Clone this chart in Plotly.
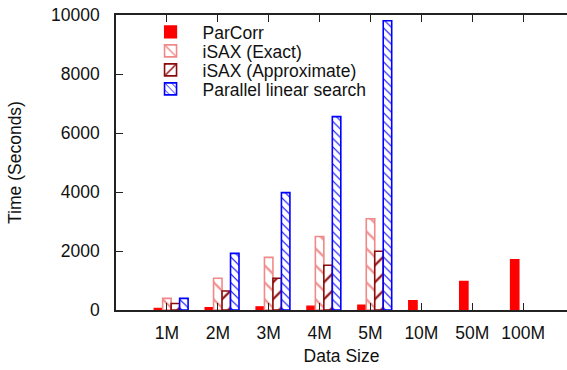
import plotly.graph_objects as go

categories = ["1M", "2M", "3M", "4M", "5M", "10M", "50M", "100M"]
positions = [1, 2, 3, 4, 5, 6, 7, 8]

parcorr = [60, 80, 110, 130, 170, 320, 970, 1710]
isax_exact = [395, 1075, 1785, 2490, 3095, None, None, None]
isax_approx = [220, 645, 1075, 1515, 1990, None, None, None]
parallel_linear = [395, 1920, 3980, 6555, 9805, None, None, None]

y_ticks = [0, 2000, 4000, 6000, 8000, 10000]
y_ticklabels = ["0", "2000", "4000", "6000", "8000", "10000"]

# name, values, colour, pattern, bar-centre shift (in category units)
series = [
    ("ParCorr", parcorr, "#ff0000", "", -1 / 6),
    ("iSAX (Exact)", isax_exact, "#f08a8a", "\\", 0.0),
    ("iSAX (Approximate)", isax_approx, "#8b0a0a", "/", 1 / 6),
    ("Parallel linear search", parallel_linear, "#0000ff", "\\", 1 / 3),
]

font = dict(family="Liberation Sans, Arial, sans-serif", size=17.5, color="#111")
legend_font = dict(family="Liberation Sans, Arial, sans-serif", size=17.5, color="#111")
legend_rows_px = [32, 51, 70, 89]
plot_top, plot_bottom = 15, 310

fig = go.Figure()
layout_legends = {}
for i, (name, vals, color, shape, shift) in enumerate(series):
    if shape == "":
        marker = dict(color=color, line=dict(color=color, width=1.2))
    else:
        size = 6 if name.startswith("Parallel") else 12
        marker = dict(
            color="white",
            line=dict(color=color, width=1.6),
            pattern=dict(shape=shape, fgcolor=color, bgcolor="white",
                         size=size, solidity=0.18, fillmode="replace"),
        )
    lg = "legend" if i == 0 else f"legend{i + 1}"
    fig.add_trace(go.Bar(
        x=positions, y=vals, name=name, width=1 / 6, offset=shift - 1 / 12,
        marker=marker, legend=lg,
    ))
    ypaper = (plot_bottom - legend_rows_px[i]) / (plot_bottom - plot_top)
    layout_legends[lg] = dict(
        x=0.05, y=ypaper, xanchor="left", yanchor="middle",
        bgcolor="rgba(0,0,0,0)", font=legend_font, itemwidth=54,
    )

fig.update_layout(
    width=567, height=370,
    margin=dict(l=116, r=0, t=plot_top, b=370 - plot_bottom),
    paper_bgcolor="white", plot_bgcolor="white",
    barmode="overlay",
    font=font,
    showlegend=True,
    xaxis=dict(
        range=[0, 451 / 50.9],
        tickvals=positions, ticktext=categories,
        ticks="inside", ticklen=7, tickcolor="#222", tickwidth=1.2,
        showline=True, linecolor="#222", linewidth=1.5, mirror="ticks",
        showgrid=False, zeroline=False,
        ticklabelstandoff=6,
        title=dict(text="Data Size", standoff=8, font=font),
    ),
    yaxis=dict(
        range=[0, 10000],
        tickvals=y_ticks, ticktext=y_ticklabels,
        ticks="inside", ticklen=7, tickcolor="#222", tickwidth=1.2,
        showline=True, linecolor="#222", linewidth=1.5, mirror=False,
        showgrid=False, zeroline=False,
        ticklabelstandoff=11,
        title=dict(text="Time (Seconds)", standoff=25, font=font),
    ),
    **layout_legends,
)

fig.write_html(
    "out.html",
    config={"displayModeBar": False},
    post_script="document.body.style.margin='0';document.body.style.padding='0';",
)
